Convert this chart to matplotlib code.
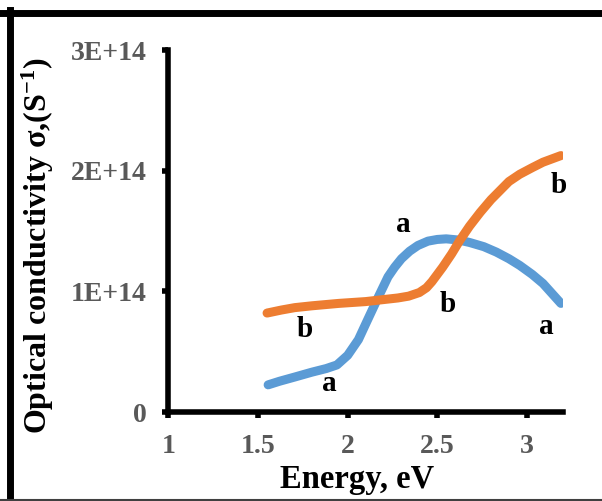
import matplotlib.pyplot as plt
from matplotlib.lines import Line2D

# curve a (blue)
energy_a = [1.556, 1.62, 1.705, 1.80, 1.88, 1.94, 2.00, 2.06, 2.11, 2.17, 2.225, 2.262,
            2.30, 2.346, 2.392, 2.448, 2.50, 2.55, 2.62, 2.68, 2.76, 2.83, 2.90, 2.96,
            3.03, 3.09, 3.19]
sigma_a = [0.225, 0.255, 0.29, 0.33, 0.36, 0.39, 0.47, 0.60, 0.76, 0.95, 1.12, 1.20,
           1.27, 1.333, 1.38, 1.416, 1.43, 1.435, 1.425, 1.405, 1.37, 1.325, 1.27, 1.215,
           1.14, 1.065, 0.90]

# curve b (orange)
energy_b = [1.55, 1.63, 1.705, 1.80, 1.95, 2.10, 2.19, 2.28, 2.34, 2.40, 2.44, 2.47, 2.50,
            2.53, 2.58, 2.625, 2.68, 2.74, 2.80, 2.85, 2.90, 2.96, 3.03, 3.09, 3.19]
sigma_b = [0.82, 0.845, 0.865, 0.88, 0.90, 0.915, 0.93, 0.945, 0.96, 0.99, 1.03, 1.08, 1.14,
           1.20, 1.31, 1.42, 1.54, 1.655, 1.76, 1.835, 1.91, 1.97, 2.025, 2.07, 2.125]

# curve labels: (text, energy, sigma)
labels = [('b', 1.76, 0.68), ('a', 1.90, 0.24), ('a', 2.31, 1.55),
          ('b', 2.56, 0.89), ('b', 3.18, 1.88), ('a', 3.11, 0.71)]

xticks = [1, 1.5, 2, 2.5, 3]
xticklabels = ['1', '1.5', '2', '2.5', '3']
yticks = [0, 1e14, 2e14, 3e14]
yticklabels = ['0', '1E+14', '2E+14', '3E+14']

plt.rcParams['font.family'] = ['Liberation Serif', 'DejaVu Serif']
plt.rcParams['font.weight'] = 'bold'
plt.rcParams['mathtext.fontset'] = 'custom'
plt.rcParams['mathtext.rm'] = 'Liberation Serif:bold'
plt.rcParams['mathtext.bf'] = 'Liberation Serif:bold'
plt.rcParams['mathtext.it'] = 'Liberation Serif:bold'

fig = plt.figure(figsize=(6.02, 5.01), dpi=100)
ax = fig.add_axes([168.5 / 602, 89 / 501, (562.7 - 168.5) / 602, (412 - 50) / 501])

ax.plot(energy_a, [v * 1e14 for v in sigma_a], color='#5B9BD5', lw=6.5,
        solid_capstyle='round', solid_joinstyle='round')
ax.plot(energy_b, [v * 1e14 for v in sigma_b], color='#ED7D31', lw=6.5,
        solid_capstyle='round', solid_joinstyle='round')

for txt, ex, sy in labels:
    ax.text(ex, sy * 1e14, txt, fontsize=21, fontweight='bold', color='black',
            ha='center', va='center')

ax.set_xlim(1, 3.2)
ax.set_ylim(0, 3e14)
ax.set_xticks(xticks)
ax.set_xticklabels(xticklabels)
ax.set_yticks(yticks)
ax.set_yticklabels(yticklabels)

for s in ['top', 'right']:
    ax.spines[s].set_visible(False)
for s in ['left', 'bottom']:
    ax.spines[s].set_linewidth(4)
    ax.spines[s].set_color('black')
    ax.spines[s].set_capstyle('projecting')

ax.tick_params(axis='both', direction='out', length=4, width=4, color='black',
               labelsize=20, labelcolor='#595959', pad=12)
for lab in ax.get_xticklabels() + ax.get_yticklabels():
    lab.set_fontweight('bold')

ax.set_xlabel('Energy, eV', fontsize=23.5, fontweight='bold')
ax.xaxis.set_label_coords(0.478, -0.143)
ax.set_ylabel('Optical conductivity σ,(S$^{-1}$)', fontsize=23, fontweight='bold')
ax.yaxis.set_label_coords(-0.285, 0.459)

# outer frame
fig.add_artist(Line2D([0, 1], [1 - 12.5 / 501] * 2, color='black', lw=5,
                      transform=fig.transFigure))
fig.add_artist(Line2D([10 / 602] * 2, [0, 1 - 9.5 / 501], color='black', lw=5,
                      transform=fig.transFigure))
fig.add_artist(Line2D([0, 1], [1.5 / 501] * 2, color='#404040', lw=1.5,
                      transform=fig.transFigure))

fig.savefig('out.png', dpi=100)
